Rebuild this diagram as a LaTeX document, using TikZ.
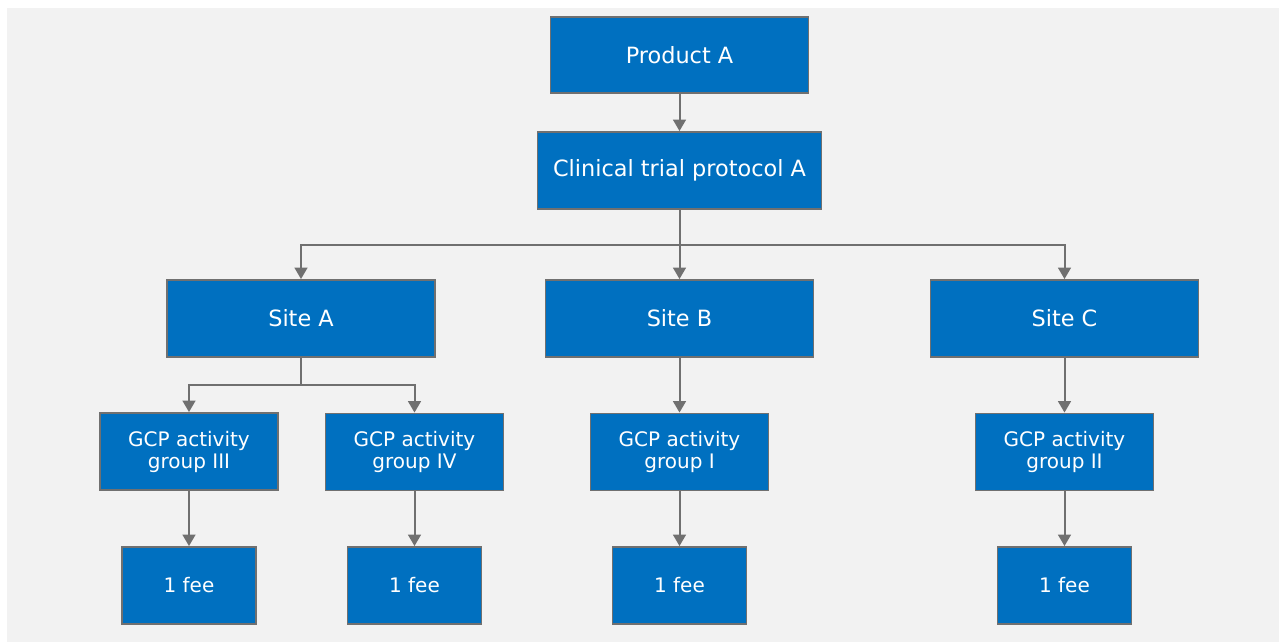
\documentclass[tikz,border=0pt]{standalone}
\usepackage{fontspec}
\setmainfont{DejaVu Sans}
\usetikzlibrary{arrows.meta}
\definecolor{bg}{HTML}{F2F2F2}
\definecolor{boxblue}{HTML}{0070C0}
\definecolor{edge}{HTML}{707070}
\begin{document}
\begin{tikzpicture}[x=0.75pt,y=-0.75pt,
  box/.style={draw=edge,line width=1.4pt,fill=boxblue,text=white,inner sep=0pt,align=center,minimum height=57.75pt},
  bigbox/.style={box,font=\fontsize{16.8}{19}\selectfont},
  smallbox/.style={box,font=\fontsize{15}{16.5}\selectfont},
  arr/.style={draw=edge,line width=1.5pt,-{Triangle[width=9.5pt,length=8.5pt]}},
  ln/.style={draw=edge,line width=1.5pt}]
\useasboundingbox (0,0) rectangle (1279,642);
\fill[bg] (7,8) rectangle (1279,642);
\node[bigbox,minimum width=193.5pt,minimum height=57pt] (prod) at (679.5,55) {Product A};
\node[bigbox,minimum width=213pt] (clin) at (679.5,170.5) {Clinical trial protocol A};
\node[bigbox,minimum width=201pt] (siteA) at (301,318.5) {Site A};
\node[bigbox,minimum width=201pt] (siteB) at (679.5,318.5) {Site B};
\node[bigbox,minimum width=201pt] (siteC) at (1064.5,318.5) {Site C};
\node[smallbox,minimum width=133.5pt] (g3) at (189,451.5) {GCP activity\\group III};
\node[smallbox,minimum width=133.5pt] (g4) at (414.5,452) {GCP activity\\group IV};
\node[smallbox,minimum width=133.5pt] (g1) at (679.5,452) {GCP activity\\group I};
\node[smallbox,minimum width=133.5pt] (g2) at (1064.5,452) {GCP activity\\group II};
\node[smallbox,minimum width=100.5pt] (f3) at (189,585.5) {1 fee};
\node[smallbox,minimum width=100.5pt] (f4) at (414.5,585.5) {1 fee};
\node[smallbox,minimum width=100.5pt] (f1) at (679.5,585.5) {1 fee};
\node[smallbox,minimum width=100.5pt] (f2) at (1064.5,585.5) {1 fee};
\coordinate (j1) at (679.5,245);
\coordinate (j2) at (301,385);
\draw[arr] (prod.south) -- (clin.north);
\draw[ln] (clin.south) -- (j1);
\draw[arr] (j1) -| (siteA.north);
\draw[arr] (j1) -| (siteC.north);
\draw[arr] (j1) -- (siteB.north);
\draw[ln] (siteA.south) -- (j2);
\draw[arr] (j2) -| (g3.north);
\draw[arr] (j2) -| (g4.north);
\draw[arr] (siteB.south) -- (g1.north);
\draw[arr] (siteC.south) -- (g2.north);
\draw[arr] (g3.south) -- (f3.north);
\draw[arr] (g4.south) -- (f4.north);
\draw[arr] (g1.south) -- (f1.north);
\draw[arr] (g2.south) -- (f2.north);
\end{tikzpicture}
\end{document}
